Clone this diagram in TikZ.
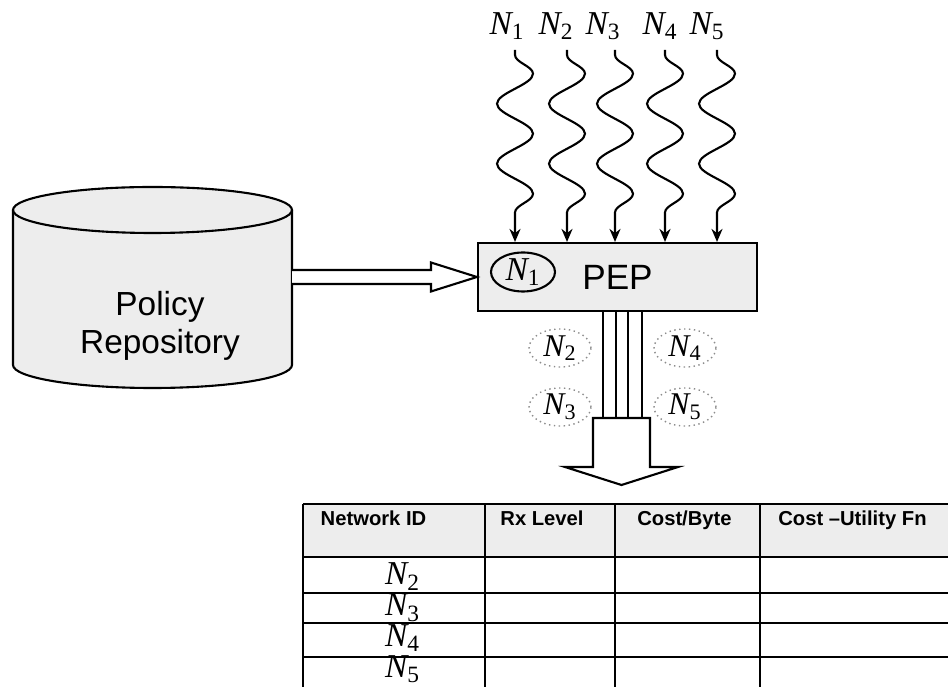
\documentclass[tikz,border=0pt]{standalone}
\usepackage{fontspec}
\setmainfont{Liberation Sans}
\newfontfamily\tnr{Liberation Serif}
\usetikzlibrary{arrows.meta, positioning, calc, shapes.geometric, decorations.pathmorphing}
\definecolor{speck}{HTML}{EDEDED}
\definecolor{dotgray}{HTML}{8C8C8C}
\newcommand{\netN}[1]{{\tnr\itshape N\textsubscript{\upshape #1}}}

\begin{document}
\begin{tikzpicture}[line width=1.2pt,
  wave/.style={-{Stealth[length=2.6mm, width=2.2mm]}, decorate,
               decoration={snake, segment length=1.2cm, amplitude=0.36cm,
                           pre length=1mm, post length=2.8mm}},
  lbl/.style={font=\fontsize{19}{22}\selectfont, inner sep=1pt},
  netcircle/.style={ellipse, draw=dotgray, dotted, line width=0.8pt,
                    minimum width=1.24cm, minimum height=0.76cm, inner sep=0pt,
                    font=\fontsize{18}{20}\selectfont},
  head/.style={font=\fontsize{11.5}{13}\selectfont\bfseries, anchor=base},
  rowid/.style={font=\fontsize{19}{20}\selectfont, anchor=base, inner sep=0pt}]

\useasboundingbox (0,0) rectangle (18.96,13.74);

% Policy repository (drawn as a cylinder)
\fill[speck] (0.26,9.54) -- (0.26,6.44)
  arc[start angle=180, end angle=360, x radius=2.79, y radius=0.46]
  -- (5.84,9.54) arc[start angle=0, end angle=180, x radius=2.79, y radius=0.46] -- cycle;
\draw (0.26,9.54) -- (0.26,6.44)
  arc[start angle=180, end angle=360, x radius=2.79, y radius=0.46] -- (5.84,9.54);
\draw (3.05,9.54) ellipse[x radius=2.79, y radius=0.46];
\coordinate (repo) at (5.84,7.99);
\node[font=\fontsize{19}{21.6}\selectfont, align=center] (repotxt) at (3.2,7.22)
  {Policy\\Repository};

% PEP
\node[draw, fill=speck, minimum width=5.58cm, minimum height=1.36cm,
      font=\fontsize{20}{22}\selectfont] (pep) at (12.35,8.2) {PEP};
\node[ellipse, draw, minimum width=1.28cm, minimum height=0.78cm, inner sep=0pt,
      font=\fontsize{19}{21}\selectfont] (e1) at (10.46,8.3) {\netN{1}};

% hollow arrow repository -> PEP
\coordinate (ra) at (repo |- pep.west);
\draw[fill=white] ($(ra)+(0,0.14)$) -- ($(pep.west)+(-0.92,0.14)$)
  -- ($(pep.west)+(-0.92,0.29)$) -- (pep.west) -- ($(pep.west)+(-0.92,-0.29)$)
  -- ($(pep.west)+(-0.92,-0.14)$) -- ($(ra)+(0,-0.14)$);

% incoming networks
\node[lbl] (l1) at (10.14,13.22) {\netN{1}};
\node[lbl] (l2) at (11.12,13.22) {\netN{2}};
\node[lbl] (l3) at (12.06,13.22) {\netN{3}};
\node[lbl] (l4) at (13.2,13.22) {\netN{4}};
\node[lbl] (l5) at (14.14,13.22) {\netN{5}};

\coordinate (w1) at (10.3,12.74);
\coordinate (w2) at (11.34,12.74);
\coordinate (w3) at (12.3,12.74);
\coordinate (w4) at (13.3,12.74);
\coordinate (w5) at (14.34,12.74);
\draw[wave] (w1) -- (w1 |- pep.north);
\draw[wave] (w2) -- (w2 |- pep.north);
\draw[wave] (w3) -- (w3 |- pep.north);
\draw[wave] (w4) -- (w4 |- pep.north);
\draw[wave] (w5) -- (w5 |- pep.north);

% candidate networks
\node[netcircle] (e2) at (11.2,6.78) {\netN{2}};
\node[netcircle] (e3) at (11.2,5.6) {\netN{3}};
\node[netcircle] (e4) at (13.7,6.78) {\netN{4}};
\node[netcircle] (e5) at (13.7,5.6) {\netN{5}};

% four links down into the block arrow
\coordinate (stem) at (12.43,5.38);
\draw (pep.south -| 12.06,0) -- (stem -| 12.06,0);
\draw (pep.south -| 12.32,0) -- (stem -| 12.32,0);
\draw (pep.south -| 12.56,0) -- (stem -| 12.56,0);
\draw (pep.south -| 12.84,0) -- (stem -| 12.84,0);
\draw[fill=white] ($(stem)+(-0.57,0)$) -- ($(stem)+(0.57,0)$) -- ($(stem)+(0.57,-0.98)$)
  -- ($(stem)+(1.13,-0.98)$) -- ($(stem)+(0,-1.34)$) -- ($(stem)+(-1.13,-0.98)$)
  -- ($(stem)+(-0.57,-0.98)$) -- cycle;

% table
\fill[speck] (6.06,2.6) rectangle (18.96,3.66);
\draw (6.06,3.66) -- (18.96,3.66);
\draw (6.06,2.6) -- (18.96,2.6);
\draw (6.06,1.88) -- (18.96,1.88);
\draw (6.06,1.28) -- (18.96,1.28);
\draw (6.06,0.6) -- (18.96,0.6);
\draw (6.06,3.66) -- (6.06,0);
\draw (9.7,3.66) -- (9.7,0);
\draw (12.3,3.66) -- (12.3,0);
\draw (15.2,3.66) -- (15.2,0);

\node[head] (h1) at (7.47,3.22) {Network ID};
\node[head] (h2) at (10.84,3.22) {Rx Level};
\node[head] (h3) at (13.69,3.22) {Cost/Byte};
\node[head] (h4) at (17.05,3.22) {Cost –Utility Fn};

\node[rowid] (r2) at (8.05,2.04) {\netN{2}};
\node[rowid] (r3) at (8.05,1.42) {\netN{3}};
\node[rowid] (r4) at (8.05,0.8) {\netN{4}};
\node[rowid] (r5) at (8.05,0.18) {\netN{5}};

\end{tikzpicture}
\end{document}
